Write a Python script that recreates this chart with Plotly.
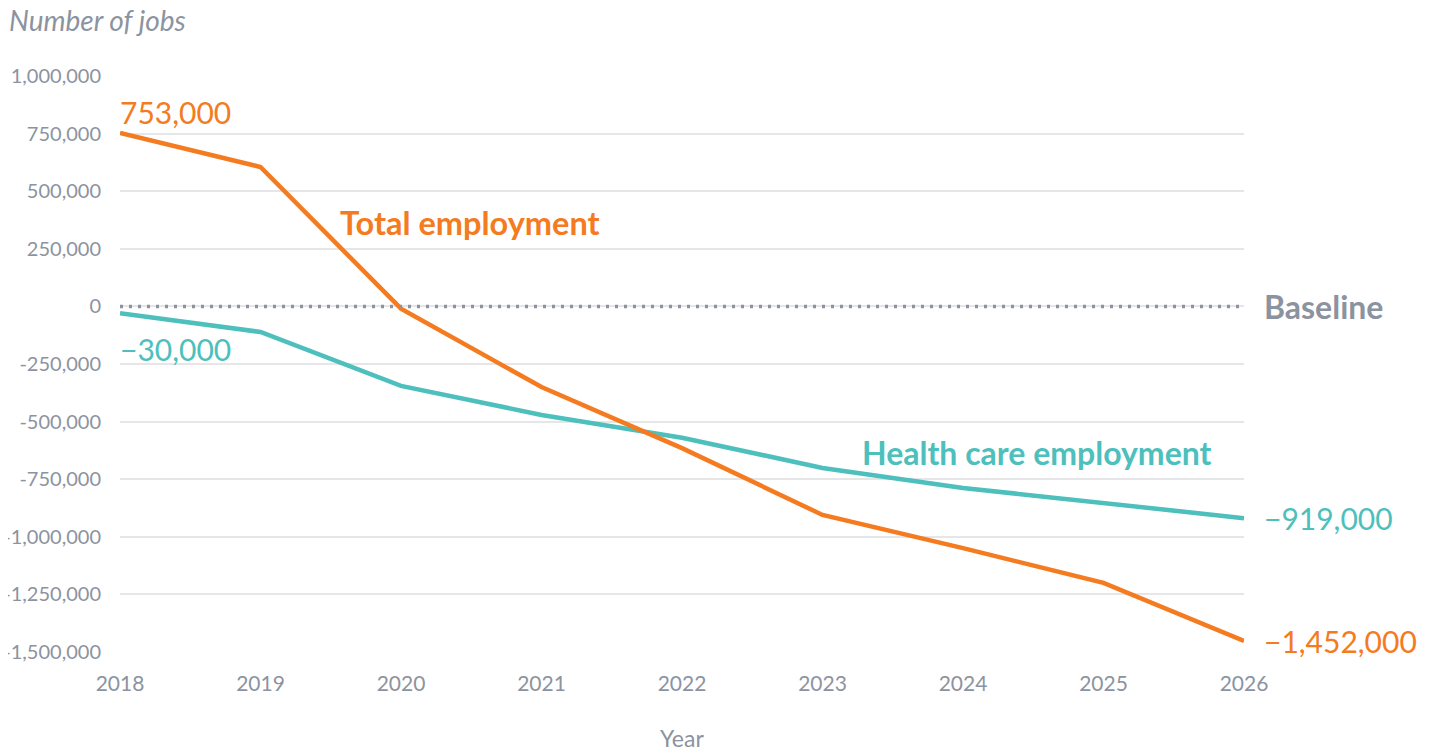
import plotly.graph_objects as go

years = [2018, 2019, 2020, 2021, 2022, 2023, 2024, 2025, 2026]
total_employment = [753000, 605000, -10000, -350000, -615000, -905000, -1049000, -1200000, -1452000]
health_employment = [-30000, -111000, -345000, -471000, -570000, -701000, -788000, -853000, -919000]

y_ticks = [1000000, 750000, 500000, 250000, 0, -250000, -500000, -750000, -1000000, -1250000, -1500000]
y_tick_text = ["1,000,000", "750,000", "500,000", "250,000", "0", "-250,000", "-500,000",
               "-750,000", "-1,000,000", "-1,250,000", "-1,500,000"]

ORANGE = "#F47B20"
TEAL = "#4DBFBC"
GRAY = "#8C93A0"
FONT = "Lato"


def fmt(v):
    s = f"{abs(v):,}"
    return ("\u2212" + s) if v < 0 else s


fig = go.Figure()
fig.add_trace(go.Scatter(x=years, y=health_employment, mode="lines",
                         line=dict(color=TEAL, width=4.5), name="Health care employment",
                         hoverinfo="skip"))
fig.add_trace(go.Scatter(x=years, y=total_employment, mode="lines",
                         line=dict(color=ORANGE, width=4.5), name="Total employment",
                         hoverinfo="skip"))

# baseline
fig.add_shape(type="line", xref="paper", x0=0, x1=1, yref="y", y0=0, y1=0,
              line=dict(color=GRAY, width=3.5, dash="3px,6px"), layer="above")

ann = []
ann.append(dict(x=years[0], y=total_employment[0], text=fmt(total_employment[0]),
                xanchor="left", yanchor="middle", yshift=21, xshift=-2, showarrow=False,
                font=dict(color=ORANGE, size=30, family=FONT)))
ann.append(dict(x=years[0], y=health_employment[0], text=fmt(health_employment[0]),
                xanchor="left", yanchor="middle", yshift=-36, xshift=-2, showarrow=False,
                font=dict(color=TEAL, size=30, family=FONT)))
ann.append(dict(x=years[-1], y=health_employment[-1], text=fmt(health_employment[-1]),
                xanchor="left", yanchor="middle", xshift=18, showarrow=False,
                font=dict(color=TEAL, size=30, family=FONT)))
ann.append(dict(x=years[-1], y=total_employment[-1], text=fmt(total_employment[-1]),
                xanchor="left", yanchor="middle", xshift=18, showarrow=False,
                font=dict(color=ORANGE, size=30, family=FONT)))
ann.append(dict(x=2019.566, y=366000, text="<b>Total employment</b>",
                xanchor="left", yanchor="middle", xshift=-2, showarrow=False,
                font=dict(color=ORANGE, size=32.5, family=FONT)))
ann.append(dict(x=2023.28, y=-632000, text="<b>Health care employment</b>",
                xanchor="left", yanchor="middle", xshift=-2, showarrow=False,
                font=dict(color=TEAL, size=32, family=FONT)))
ann.append(dict(x=1, xref="paper", y=0, text="<b>Baseline</b>",
                xanchor="left", yanchor="middle", xshift=18, showarrow=False,
                font=dict(color=GRAY, size=32, family=FONT)))
ann.append(dict(x=-0.0996, xref="paper", y=1.097, yref="paper", text="<i>Number of jobs</i>",
                xanchor="left", yanchor="middle", xshift=-1, showarrow=False,
                font=dict(color=GRAY, size=28, family=FONT)))
ann.append(dict(x=0.5, xref="paper", y=-0.149, yref="paper", text="Year",
                xanchor="center", yanchor="middle", showarrow=False,
                font=dict(color=GRAY, size=23, family=FONT)))

fig.update_layout(
    width=1424, height=742,
    margin=dict(l=112, r=188, t=68, b=98),
    paper_bgcolor="white", plot_bgcolor="white",
    showlegend=False,
    annotations=ann,
    font=dict(family=FONT, color=GRAY),
    xaxis=dict(range=[2018, 2026], tickmode="array", tickvals=years,
               ticktext=[str(y) for y in years], showgrid=False, zeroline=False,
               showline=False, ticks="", ticklabelstandoff=17, automargin=False,
               tickfont=dict(size=21, color=GRAY, family=FONT)),
    yaxis=dict(range=[-1500000, 1000000], tickmode="array", tickvals=y_ticks,
               ticktext=y_tick_text, showgrid=True, gridcolor="#E6E6E8", gridwidth=1.5,
               zeroline=False, showline=False, ticks="", ticklabelstandoff=18,
               automargin=False,
               tickfont=dict(size=20, color=GRAY, family=FONT)),
)

fig.write_html("out.html")
